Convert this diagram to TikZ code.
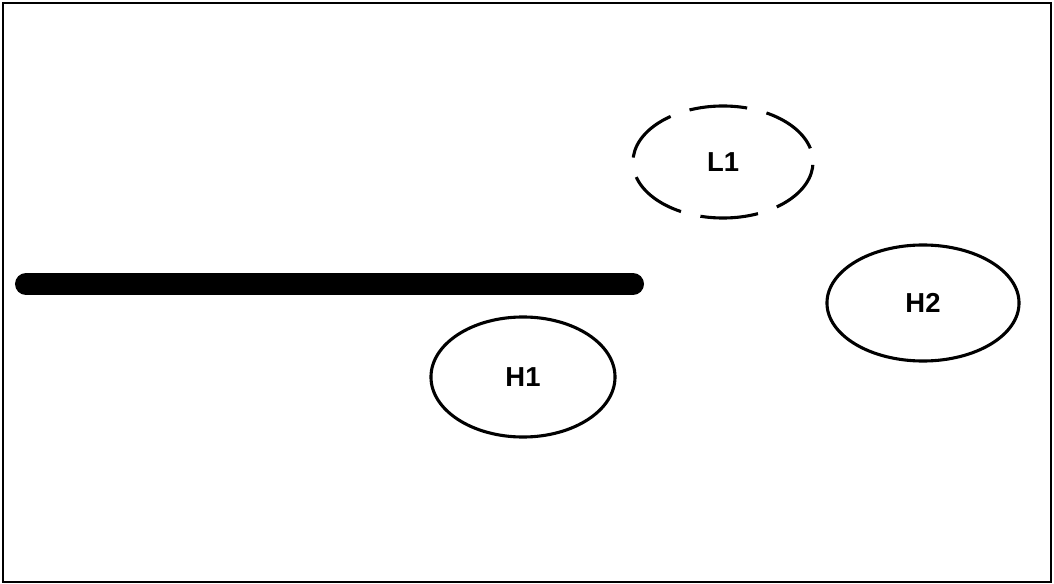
\documentclass[tikz,border=0pt]{standalone}
\usepackage{fontspec}
\setmainfont{Liberation Sans}
\usetikzlibrary{shapes.geometric}
\begin{document}
\begin{tikzpicture}[
  x=0.025cm, y=-0.025cm,
  every node/.style={ellipse, draw, line width=2.2pt, font=\bfseries\fontsize{19.5}{22}\selectfont, inner sep=0pt},
  hatom/.style={minimum width=4.6cm, minimum height=3cm},
  latom/.style={minimum width=4.5cm, minimum height=2.8cm, dash pattern=on 1.45cm off 0.5cm, dash phase=1.6cm},
  bar/.style={line width=0.55cm, line cap=round}
]
\useasboundingbox (0,0) rectangle (1054,584);
\draw[line width=1.4pt] (3,3) rectangle (1051,582);
% the thick bar
\coordinate (barL) at (26,284);
\coordinate (barR) at (633,284);
\draw[bar] (barL) -- (barR);
% the three ellipses
\node[latom] (L1) at (723,162) {L1};
\node[hatom] (H1) at (523,377) {H1};
\node[hatom, minimum width=4.8cm, minimum height=2.9cm] (H2) at (923,303) {H2};
\end{tikzpicture}
\end{document}
